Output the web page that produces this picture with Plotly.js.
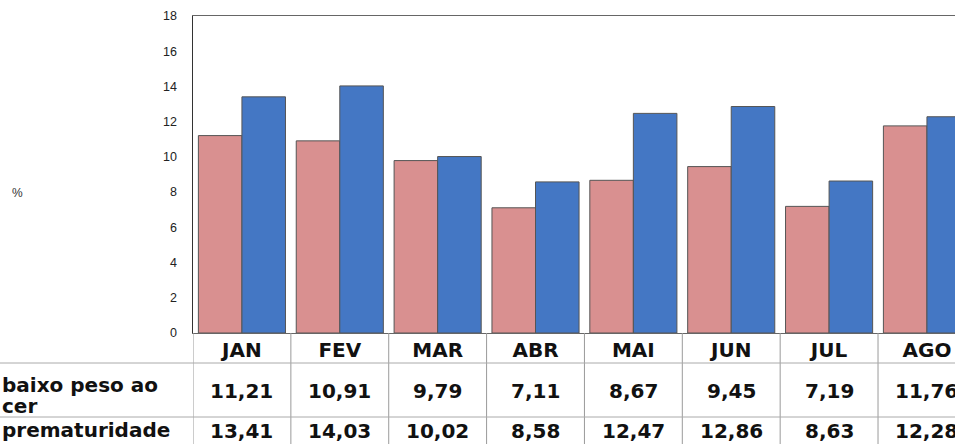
<!DOCTYPE html>
<html>
<head>
<meta charset="utf-8">
<script src="https://cdn.plot.ly/plotly-3.0.1.min.js"></script>
<style>html,body{margin:0;padding:0;background:#fff;}#chart{width:955px;height:444px;}</style>
</head>
<body>
<div id="chart"></div>
<script>
var months = ['JAN','FEV','MAR','ABR','MAI','JUN','JUL','AGO'];
var baixoPeso = [11.21, 10.91, 9.79, 7.11, 8.67, 9.45, 7.19, 11.76];
var prematuridade = [13.41, 14.03, 10.02, 8.58, 12.47, 12.86, 8.63, 12.28];
var rowLabels = ['baixo peso ao', 'cer', 'prematuridade'];
var yTicks = [0,2,4,6,8,10,12,14,16,18];

var L = 193, T = 16, B = 111, W = 955, H = 444;
var plotW = W - L, plotH = H - T - B;
var catW = 97.86;
var xEnd = -0.5 + plotW / catW;
function py(pix){ return (H - B - pix) / plotH; } // pixel y -> paper y
function fmt(v){ return v.toFixed(2).replace('.', ','); }

var tableFont = {family:'DejaVu Sans', size:20, color:'#111', weight:'bold'};
var annotations = [];
months.forEach(function(m,i){
  annotations.push({x:m, xref:'x', y:py(391), yref:'paper', text:'<b>'+fmt(baixoPeso[i])+'</b>', showarrow:false, font:tableFont, xanchor:'center', yanchor:'middle'});
  annotations.push({x:m, xref:'x', y:py(431), yref:'paper', text:'<b>'+fmt(prematuridade[i])+'</b>', showarrow:false, font:tableFont, xanchor:'center', yanchor:'middle'});
});
annotations.push({x:-L/plotW, xref:'paper', y:py(385), yref:'paper', text:'<b>'+rowLabels[0]+'</b>', showarrow:false, font:tableFont, xanchor:'left', yanchor:'middle'});
annotations.push({x:-L/plotW, xref:'paper', y:py(406), yref:'paper', text:'<b>'+rowLabels[1]+'</b>', showarrow:false, font:tableFont, xanchor:'left', yanchor:'middle'});
annotations.push({x:-L/plotW, xref:'paper', y:py(430), yref:'paper', text:'<b>'+rowLabels[2]+'</b>', showarrow:false, font:tableFont, xanchor:'left', yanchor:'middle'});
annotations.push({x:-(L-17)/plotW, xref:'paper', y:py(193), yref:'paper', text:'%', showarrow:false, font:{family:'Liberation Sans', size:12, color:'#333'}, xanchor:'center', yanchor:'middle'});

var shapes = [];
for (var i = 0; i <= months.length; i++) {
  shapes.push({type:'line', xref:'x', yref:'paper', x0:i-0.5, x1:i-0.5, y0:0, y1:py(H+5), line:{color:'#9a9a9a', width:1}});
}
[363, 417].forEach(function(yy){
  shapes.push({type:'line', xref:'paper', yref:'paper', x0:-L/plotW, x1:1.01, y0:py(yy), y1:py(yy), line:{color:'#aaaaaa', width:1}});
});

var data = [
  {type:'bar', name:'baixo peso ao nascer', x:months, y:baixoPeso, marker:{color:'#d99090', line:{color:'#555', width:1}}},
  {type:'bar', name:'prematuridade', x:months, y:prematuridade, marker:{color:'#4477c4', line:{color:'#555', width:1}}}
];
var layout = {
  width:W, height:H,
  margin:{l:L, r:0, t:T, b:B, pad:0},
  paper_bgcolor:'#fff', plot_bgcolor:'#fff',
  showlegend:false,
  barmode:'group', bargap:0.11, bargroupgap:0,
  xaxis:{type:'category', categoryarray:months, range:[-0.5, xEnd], showline:true, mirror:true, linecolor:'#666', linewidth:1,
    ticks:'', showgrid:false, zeroline:false, tickfont:{family:'DejaVu Sans', size:20, color:'#111', weight:'bold'}, ticklabelstandoff:-1},
  yaxis:{range:[0,18], tickvals:yTicks, showline:true, linecolor:'#333', linewidth:1.5, ticks:'', showgrid:false, zeroline:false,
    tickfont:{family:'Liberation Sans', size:12.5, color:'#222'}, ticklabelstandoff:12},
  annotations:annotations,
  shapes:shapes
};
Plotly.newPlot('chart', data, layout, {displayModeBar:false, staticPlot:true});
</script>
</body>
</html>
